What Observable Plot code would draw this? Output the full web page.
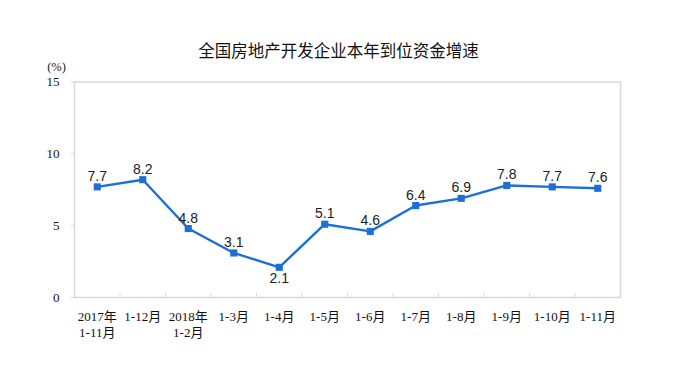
<!DOCTYPE html>
<html>
<head>
<meta charset="utf-8">
<script src="https://cdn.jsdelivr.net/npm/d3@7"></script>
<script src="https://cdn.jsdelivr.net/npm/@observablehq/plot@0.6"></script>
<style>
  html, body { margin: 0; padding: 0; background: #fff; }
  #chart svg { display: block; }
</style>
</head>
<body>
<div id="chart"></div>
<script>
const title = "全国房地产开发企业本年到位资金增速";
const unitLabel = "(%)";
const categories = ["2017年\n1-11月", "1-12月", "2018年\n1-2月", "1-3月", "1-4月", "1-5月", "1-6月", "1-7月", "1-8月", "1-9月", "1-10月", "1-11月"];
const values = [7.7, 8.2, 4.8, 3.1, 2.1, 5.1, 4.6, 6.4, 6.9, 7.8, 7.7, 7.6];
const yTicks = [0, 5, 10, 15];

const data = categories.map((c, i) => ({i, c, v: values[i]}));
const indices = data.map(d => d.i);
const boundaries = categories.slice(1).map((_, i) => i + 0.5);
const minV = Math.min(...values);

const blue = "#1b6fd6";
const serif = "'Liberation Serif', 'Times New Roman', 'Noto Sans CJK SC', serif";
const sans = "'Liberation Sans', Arial, sans-serif";

const chart = Plot.plot({
  width: 690,
  height: 380,
  marginLeft: 74,
  marginRight: 70,
  marginTop: 81.5,
  marginBottom: 83,
  style: {fontFamily: serif, background: "#fff"},
  x: {type: "linear", domain: [-0.5, categories.length - 0.5]},
  y: {domain: [0, 15]},
  marks: [
    Plot.frame({stroke: "#d9d9d9", strokeWidth: 1.5}),
    Plot.ruleX(boundaries, {x: d => d, y1: 0, y2: 0.28, stroke: "#d9d9d9", strokeWidth: 1}),
    Plot.axisY({ticks: yTicks, tickSize: 3, tickPadding: 12, fontSize: 13, stroke: "#d9d9d9", fill: "#111", label: null}),
    Plot.axisX({ticks: indices, tickFormat: i => categories[i], tickSize: 0, tickPadding: 13, fontSize: 13, lineHeight: 1.18, fill: "#111", label: null}),
    Plot.line(data, {x: "i", y: "v", stroke: blue, strokeWidth: 2.4}),
    Plot.dot(data, {x: "i", y: "v", symbol: "square", r: 4, fill: blue, stroke: null}),
    Plot.text(data.filter(d => d.v !== minV), {x: "i", y: "v", text: d => d.v.toFixed(1), lineAnchor: "bottom", dy: -6, fontSize: 14, fontFamily: sans, fill: "#222"}),
    Plot.text(data.filter(d => d.v === minV), {x: "i", y: "v", text: d => d.v.toFixed(1), lineAnchor: "top", dy: 6, fontSize: 14, fontFamily: sans, fill: "#222"}),
    Plot.text([title], {frameAnchor: "top", dx: -9, dy: -36.5, text: d => d, fontSize: 16.5, fontFamily: "'Noto Sans CJK SC', sans-serif", fill: "#111"}),
    Plot.text([unitLabel], {frameAnchor: "top-left", dx: -18, dy: -19.5, text: d => d, fontSize: 12.5, fill: "#222", textAnchor: "middle"})
  ]
});
document.getElementById("chart").appendChild(chart);
</script>
</body>
</html>
